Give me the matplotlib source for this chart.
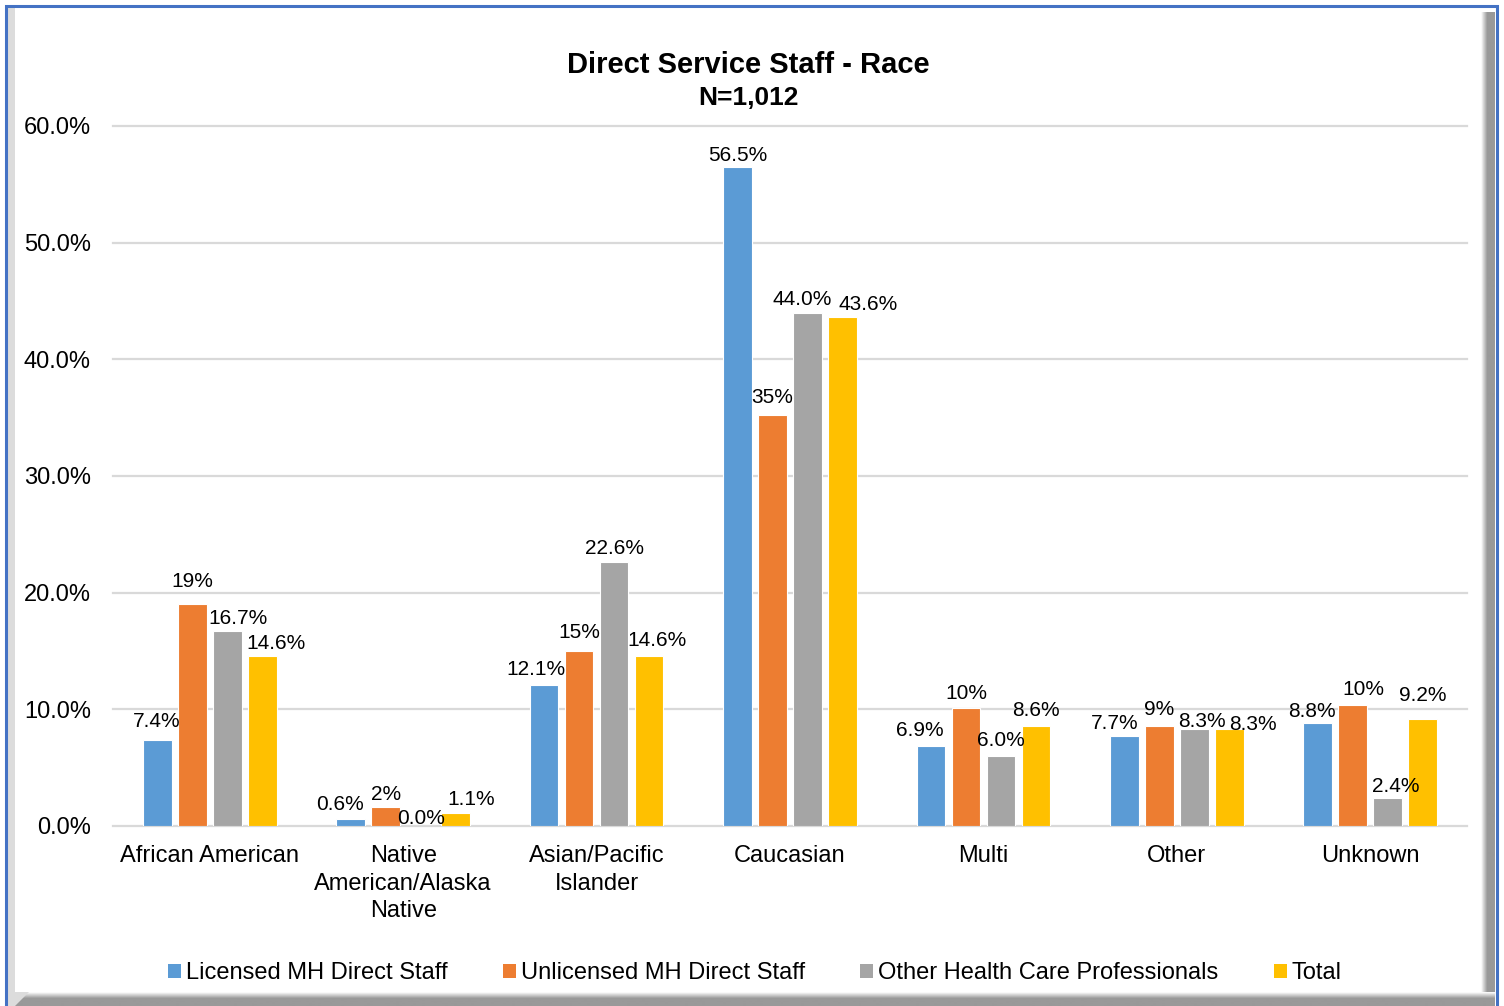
import matplotlib
matplotlib.use("Agg")
import matplotlib.pyplot as plt
import numpy as np
from matplotlib.patches import Patch, Rectangle
from matplotlib.ticker import FuncFormatter

plt.rcParams["font.family"] = ["Liberation Sans", "DejaVu Sans"]

categories = ["African American", "Native\nAmerican/Alaska\nNative",
              "Asian/Pacific\nIslander", "Caucasian", "Multi", "Other", "Unknown"]
series_names = ["Licensed MH Direct Staff", "Unlicensed MH Direct Staff",
                "Other Health Care Professionals", "Total"]
licensed = [7.4, 0.6, 12.1, 56.5, 6.9, 7.7, 8.8]
unlicensed = [19.0, 1.6, 15.0, 35.2, 10.1, 8.6, 10.4]
other_hcp = [16.7, 0.0, 22.6, 44.0, 6.0, 8.3, 2.4]
total = [14.6, 1.1, 14.6, 43.6, 8.6, 8.3, 9.2]
label_formats = ["{:.1f}%", "{:.0f}%", "{:.1f}%", "{:.1f}%"]

colors = ["#5B9BD5", "#ED7D31", "#A5A5A5", "#FFC000"]

# label nudges in pixels: (dx, height of label centre above bar top)
label_dx = [[-1, -11, -8, 0, -11, -10, -6],
            [0, 0, 0, 0, 0, 0, 11],
            [11, 0, 0, -5, 0, 8, 8],
            [14, 16, 8, 26, 0, 24, 0]]
label_dy = [[18, 14, 15, 11, 15, 13, 12],
            [23, 13, 18, 18, 15, 16, 15],
            [13, 7, 14, 13, 15, 8, 11],
            [12, 14, 15, 13, 15, 5, 23]]

W, H = 1504, 1006


def shade_profile():
    # white fading into a flat grey
    return np.concatenate([np.linspace(1.0, 0.62, 14), np.full(18, 0.6)])


def draw_frame(fig):
    bg = fig.add_axes([0, 0, 1, 1], zorder=-10)
    # bevel strip on the left
    bg.add_patch(Rectangle((7, 8), 8, H, color="#dcdcdc", lw=0))
    # shadow on the right edge
    g = shade_profile()
    img = np.dstack([g, g, g]).repeat(2, axis=0)
    bg.imshow(img, extent=(1481, 1495, H, 12), aspect="auto", interpolation="bilinear")
    bg.fill([1481, 1495, 1495], [12, 12, 0], color="white", lw=0)
    # shadow along the bottom
    g = shade_profile()[:, np.newaxis]
    img = np.dstack([g, g, g]).repeat(2, axis=1)
    bg.imshow(img, extent=(15, 1495, H, 992), aspect="auto", interpolation="bilinear")
    bg.fill([15, 29, 15], [992, 992, 1006], color="#dcdcdc", lw=0)
    # blue outline
    blue = "#4472C4"
    bg.plot([5.5, 5.5, 1496.5, 1496.5], [H, 6, 6, H], color=blue, lw=2.2,
            solid_joinstyle="miter")
    bg.set_xlim(0, W)
    bg.set_ylim(H, 0)
    bg.axis("off")


def main():
    fig = plt.figure(figsize=(W / 100, H / 100), dpi=100)
    draw_frame(fig)

    ax = fig.add_axes([113 / W, 1 - 826 / H, (1467 - 113) / W, 700 / H])
    ax.set_facecolor("none")
    x = np.arange(len(categories))
    step = 0.181
    width = 0.148
    all_values = [licensed, unlicensed, other_hcp, total]
    for i, (vals, col) in enumerate(zip(all_values, colors)):
        xs = x + (i - 1.5) * step
        ax.bar(xs, vals, width, color=col, edgecolor="white", linewidth=0.8,
               zorder=3)
        for j, v in enumerate(vals):
            ax.annotate(label_formats[i].format(v), (xs[j], v),
                        xytext=(label_dx[i][j], label_dy[i][j]),
                        textcoords="offset pixels", ha="center", va="center",
                        fontsize=15, zorder=5)

    ax.set_xlim(-0.5, len(categories) - 0.5)
    ax.set_ylim(0, 60)
    ax.set_yticks(np.arange(0, 61, 10))
    ax.yaxis.set_major_formatter(FuncFormatter(lambda v, p: f"{v:.1f}%"))
    ax.set_xticks(x)
    ax.set_xticklabels(categories, linespacing=1.3)
    ax.tick_params(axis="both", length=0, labelsize=17)
    ax.tick_params(axis="y", pad=16)
    ax.tick_params(axis="x", pad=14)
    ax.grid(axis="y", color="#d9d9d9", linewidth=1.6, zorder=0)
    for line in ax.get_ygridlines():
        line.set_clip_on(False)
    ax.set_axisbelow(True)
    for s in ax.spines.values():
        s.set_visible(False)

    fig.text(748 / W, 1 - 65 / H, "Direct Service Staff - Race", ha="center",
             va="center", fontsize=21, fontweight="bold")
    fig.text(748 / W, 1 - 98 / H, "N=1,012", ha="center", va="center",
             fontsize=19, fontweight="bold")

    handles = [Patch(facecolor=c, edgecolor="none") for c in colors]
    fig.legend(handles, series_names, loc="center",
               bbox_to_anchor=(755 / W, 1 - 973 / H), ncol=4, frameon=False,
               fontsize=17, handlelength=0.55, handleheight=0.55,
               handletextpad=0.2, columnspacing=2.35)

    fig.savefig("out.png", dpi=100)


if __name__ == "__main__":
    main()
